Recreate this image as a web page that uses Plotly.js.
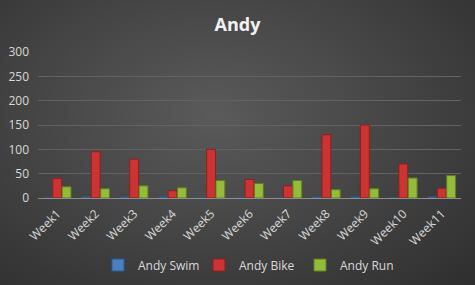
<!DOCTYPE html>
<html><head><meta charset="utf-8">
<script src="https://cdn.plot.ly/plotly-3.0.1.min.js"></script>
<style>
html,body{margin:0;padding:0;}
#chart{width:475px;height:285px;background:radial-gradient(ellipse at 45% 40%, #5a5a5a 0%, #474747 45%, #2e2e2e 100%);}
</style></head>
<body><div id="chart"></div>
<script>
const weeks = ['Week1','Week2','Week3','Week4','Week5','Week6','Week7','Week8','Week9','Week10','Week11'];
const swim = [0,2,2,2,0,0,0,2,2,0,2];
const bike = [40,95,80,15,100,38,25,130,150,70,20];
const run = [23,19,25,21,36,30,36,17,19,41,46];

const traces = [
  {type:'bar', name:'Andy Swim', x:weeks, y:swim, marker:{color:'#4a7fc0', line:{color:'#2f5a8f', width:1}}},
  {type:'bar', name:'Andy Bike', x:weeks, y:bike, marker:{color:'#cc3333', line:{color:'#8e1f1f', width:1}}},
  {type:'bar', name:'Andy Run', x:weeks, y:run, marker:{color:'#94bb3a', line:{color:'#5f7e1f', width:1}}}
];
const layout = {
  width:475, height:285,
  paper_bgcolor:'rgba(0,0,0,0)', plot_bgcolor:'rgba(0,0,0,0)',
  margin:{l:38, r:14, t:52, b:87, autoexpand:false},
  title:{text:'<b>Andy</b>', x:0.5, xanchor:'center', y:0.915, yanchor:'middle', font:{family:'Open Sans, DejaVu Sans', size:18, color:'#f2f2f2'}},
  barmode:'group', bargap:0.27, bargroupgap:0.05,
  xaxis:{automargin:false, tickangle:-45, tickfont:{family:'Open Sans, DejaVu Sans', size:12, color:'#d9d9d9'}, showgrid:false, showline:true, linecolor:'#8c8c8c', linewidth:1, ticks:'', zeroline:false, ticklabelstandoff:3},
  yaxis:{automargin:false, range:[0,300], dtick:50, tickfont:{family:'Open Sans, DejaVu Sans', size:12, color:'#d9d9d9'}, gridcolor:'#626262', gridwidth:1, zeroline:false, ticks:'', showline:false, ticklabelstandoff:8},
  legend:{orientation:'h', x:0.5, xanchor:'center', yref:'container', y:0.07, yanchor:'middle', font:{family:'Open Sans, DejaVu Sans', size:12, color:'#d9d9d9'}, itemwidth:30, entrywidth:56, entrywidthmode:'pixels', traceorder:'normal'},
  showlegend:true
};
Plotly.newPlot('chart', traces, layout, {displayModeBar:false, staticPlot:true});
</script></body></html>
